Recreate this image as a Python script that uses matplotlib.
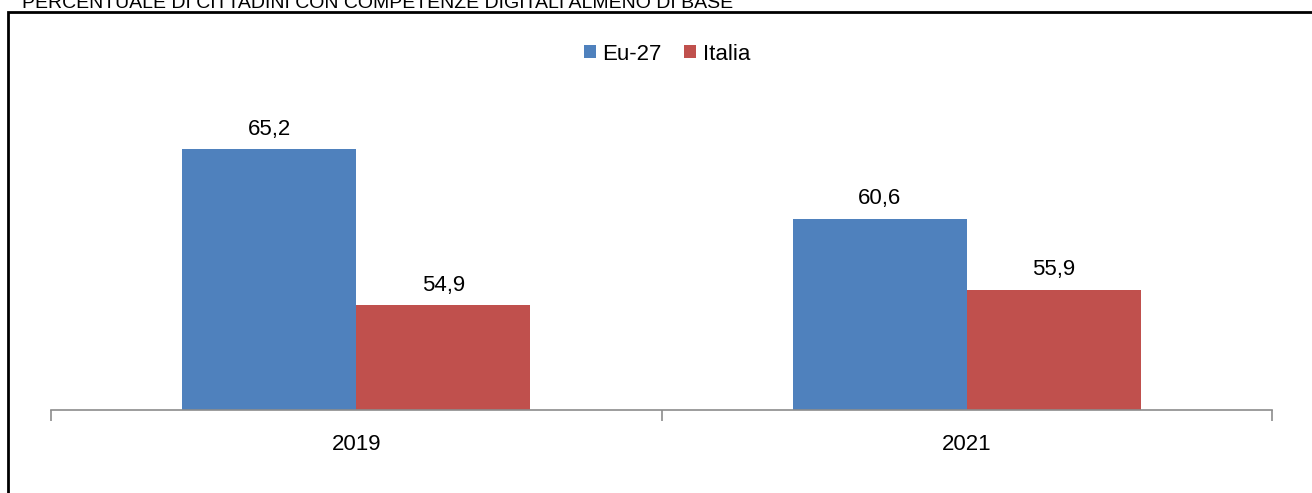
import matplotlib
matplotlib.use("Agg")
from matplotlib import pyplot as plt
from matplotlib.patches import Rectangle
import numpy as np

# percentuale di cittadini con competenze digitali almeno di base
years = ["2019", "2021"]
eu27 = [65.2, 60.6]
italia = [54.9, 55.9]
series_names = ["Eu-27", "Italia"]

plt.rcParams['font.family'] = ['Liberation Sans', 'DejaVu Sans']

W, H = 1312, 493
fig = plt.figure(figsize=(W / 100, H / 100), dpi=100)

# outer frame (cropped at right and bottom)
fig.patches.append(Rectangle((8 / W, -0.1), 1.2, (H - 12) / H + 0.1,
                             transform=fig.transFigure, fill=False,
                             edgecolor='black', linewidth=2))

# title, partly cut at the top edge
fig.text(22 / W, 1 - 8 / H, "PERCENTUALE DI CITTADINI CON COMPETENZE DIGITALI ALMENO DI BASE",
         fontsize=14, va='baseline', ha='left')

y0, y1 = 48, 70
ax_bottom = 410
ax_top = ax_bottom - (y1 - y0) * 15.15
ax = fig.add_axes([51 / W, (H - ax_bottom) / H, (1272 - 51) / W, (ax_bottom - ax_top) / H])

x = np.arange(len(years))
w = 0.285
b1 = ax.bar(x - w / 2, np.array(eu27) - y0, w, bottom=y0, color='#4F81BD', label=series_names[0])
b2 = ax.bar(x + w / 2, np.array(italia) - y0, w, bottom=y0, color='#C0504D', label=series_names[1])

for bars, vals in ((b1, eu27), (b2, italia)):
    for r, v in zip(bars, vals):
        ax.text(r.get_x() + r.get_width() / 2, v + 0.65, f"{v:.1f}".replace('.', ','),
                ha='center', va='bottom', fontsize=16)

ax.set_xlim(-0.5, 1.5)
ax.set_ylim(y0, y1)
for s in ('top', 'right', 'left'):
    ax.spines[s].set_visible(False)
ax.spines['bottom'].set_color('#8c8c8c')
ax.spines['bottom'].set_linewidth(1.2)
ax.set_yticks([])

ax.set_xticks(x)
ax.set_xticklabels(years, fontsize=16)
ax.tick_params(axis='x', length=0, pad=17)
ax.set_xticks([-0.5, 0.5, 1.5], minor=True)
ax.tick_params(axis='x', which='minor', length=8, color='#8c8c8c', width=1.2)

leg = fig.legend(loc='center', bbox_to_anchor=(667 / W, 1 - 54 / H), ncol=2, frameon=False,
                 fontsize=16, handlelength=0.55, handleheight=0.55, handletextpad=0.3,
                 columnspacing=1.0)

fig.savefig("out.png", dpi=100)
